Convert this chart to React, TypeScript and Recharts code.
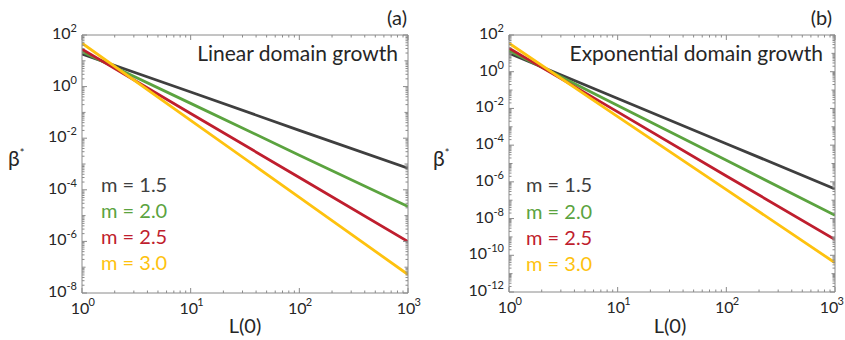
import React from 'react';
import { LineChart, Line, XAxis, YAxis } from 'recharts';

const FONT = 'Lato, "Open Sans", sans-serif';
const TEXT = '#262626';
const AXIS = '#8a8a8a';

// x values: L(0)
const L0 = [1, 10, 100, 1000];
const SERIES_NAMES = ['m = 1.5', 'm = 2.0', 'm = 2.5', 'm = 3.0'];
const SERIES_KEYS = ['m15', 'm20', 'm25', 'm30'];
const SERIES_COLORS = ['#3f3f3f', '#5ba33f', '#bf1e2e', '#fec20f'];

// Panel (a) Linear domain growth: beta* at L(0) = 1, 10, 100, 1000
const LIN_M15 = [18.2, 0.62, 0.02, 0.00069];
const LIN_M20 = [22.4, 0.224, 0.0022, 0.0000224];
const LIN_M25 = [28.2, 0.091, 0.0003, 9.8e-7];
const LIN_M30 = [47.9, 0.049, 5.1e-5, 5.2e-8];

// Panel (b) Exponential domain growth
const EXP_M15 = [10, 0.035, 1.2e-4, 4.1e-7];
const EXP_M20 = [14.1, 0.0145, 1.5e-5, 1.5e-8];
const EXP_M25 = [19, 0.0065, 2.1e-6, 7.2e-10];
const EXP_M30 = [35.5, 0.0036, 3.8e-7, 3.9e-11];

// tick labels (exponents of 10)
const X_LABEL_EXP = [0, 1, 2, 3];
const Y_LABEL_EXP_A = [-8, -6, -4, -2, 0, 2];
const Y_LABEL_EXP_B = [-12, -10, -8, -6, -4, -2, 0, 2];

function logTicks(minExp: number, maxExp: number) {
  const out: number[] = [];
  for (let e = minExp; e <= maxExp; e++) {
    out.push(Math.pow(10, e));
    if (e < maxExp) for (let k = 2; k <= 9; k++) out.push(k * Math.pow(10, e));
  }
  return out;
}

function classify(v: number, labels: number[]) {
  const lg = Math.log10(v);
  const e = Math.round(lg);
  const decade = Math.abs(lg - e) < 1e-6;
  const labelled = decade && labels.includes(e);
  return { e, decade, labelled, len: labelled ? 5 : decade ? 3.5 : 2.5 };
}

const makeTick = (side: string, labels: number[], maxRight: number = 10000) => (props: any) => {
  const { x, y, payload } = props;
  const c = classify(payload.value, labels);
  if (side === 'bottom') {
    const cx = Math.min(x - 2, maxRight - 16);
    return (
      <g>
        <line x1={x} x2={x} y1={y} y2={y - c.len} stroke={AXIS} strokeWidth={1} />
        {c.labelled && (
          <g fontFamily={FONT} fill={TEXT}>
            <text x={cx} y={y + 21} textAnchor="middle" fontSize={16}>10</text>
            <text x={cx + 8.5} y={y + 13} textAnchor="start" fontSize={11}>{String(c.e)}</text>
          </g>
        )}
      </g>
    );
  }
  if (side === 'top') {
    return <line x1={x} x2={x} y1={y} y2={y + c.len} stroke={AXIS} strokeWidth={1} />;
  }
  if (side === 'left') {
    return (
      <g>
        <line x1={x} x2={x + c.len} y1={y} y2={y} stroke={AXIS} strokeWidth={1} />
        {c.labelled && (
          <text x={x - 5} y={y + 4} textAnchor="end" fontFamily={FONT} fill={TEXT} fontSize={16}>
            10<tspan dy={-7} fontSize={11}>{c.e < 0 ? '-' + String(-c.e) : String(c.e)}</tspan>
          </text>
        )}
      </g>
    );
  }
  return <line x1={x} x2={x - c.len} y1={y} y2={y} stroke={AXIS} strokeWidth={1} />;
};

type PanelProps = {
  rows: any[];
  yMinExp: number;
  yMaxExp: number;
  yLabels: number[];
  width: number;
  maxRight: number;
  margin: { top: number; right: number; bottom: number; left: number };
  title: string;
  titleX: number;
  tag: string;
  tagX: number;
  legendX: number;
  legendY: number[];
  betaX: number;
  xLabelX: number;
};

function Panel(p: PanelProps) {
  const xTicks = logTicks(0, 3);
  const yTicks = logTicks(p.yMinExp, p.yMaxExp);
  const xDomain = [1, 1000];
  const yDomain = [Math.pow(10, p.yMinExp), Math.pow(10, p.yMaxExp)];
  return (
    <LineChart width={p.width} height={340} data={p.rows} margin={p.margin} style={{ overflow: 'visible' }}>
      <XAxis
        dataKey="L"
        type="number"
        scale="log"
        domain={xDomain}
        allowDataOverflow
        ticks={xTicks}
        interval={0}
        height={1}
        tickSize={0}
        tickMargin={0}
        tickLine={false}
        axisLine={{ stroke: AXIS }}
        tick={makeTick('bottom', X_LABEL_EXP, p.maxRight)}
      />
      <XAxis
        xAxisId="top"
        orientation="top"
        dataKey="L"
        type="number"
        scale="log"
        domain={xDomain}
        allowDataOverflow
        ticks={xTicks}
        interval={0}
        height={1}
        tickSize={0}
        tickMargin={0}
        tickLine={false}
        axisLine={{ stroke: AXIS }}
        tick={makeTick('top', X_LABEL_EXP)}
      />
      <YAxis
        type="number"
        scale="log"
        domain={yDomain}
        allowDataOverflow
        ticks={yTicks}
        interval={0}
        width={1}
        tickSize={0}
        tickMargin={0}
        tickLine={false}
        axisLine={{ stroke: AXIS }}
        tick={makeTick('left', p.yLabels)}
      />
      <YAxis
        yAxisId="right"
        orientation="right"
        type="number"
        scale="log"
        domain={yDomain}
        allowDataOverflow
        ticks={yTicks}
        interval={0}
        width={1}
        tickSize={0}
        tickMargin={0}
        tickLine={false}
        axisLine={{ stroke: AXIS }}
        tick={makeTick('right', p.yLabels)}
      />
      {SERIES_KEYS.map((k, i) => (
        <Line
          key={k}
          dataKey={k}
          type="linear"
          stroke={SERIES_COLORS[i]}
          strokeWidth={2.8}
          dot={false}
          activeDot={false}
          isAnimationActive={false}
        />
      ))}
      <g fontFamily={FONT}>
        <text x={p.titleX} y={61} textAnchor="end" fontSize={21} fill={TEXT}>{p.title}</text>
        <text x={p.tagX} y={25} textAnchor="end" fontSize={20} fill={TEXT}>{p.tag}</text>
        {SERIES_NAMES.map((n, i) => (
          <text key={n} x={p.legendX} y={p.legendY[i]} fontSize={20} fill={SERIES_COLORS[i]}>{n}</text>
        ))}
        <text x={p.betaX} y={166} fontSize={21} fill={TEXT}>
          β<tspan dy={-9} fontSize={11}>*</tspan>
        </text>
        <text x={p.xLabelX} y={333} textAnchor="middle" fontSize={20} fill={TEXT}>L(0)</text>
      </g>
    </LineChart>
  );
}

function buildRows(a: number[], b: number[], c: number[], d: number[]) {
  return L0.map((L, i) => ({ L, m15: a[i], m20: b[i], m25: c[i], m30: d[i] }));
}

export default function App() {
  const rowsA = buildRows(LIN_M15, LIN_M20, LIN_M25, LIN_M30);
  const rowsB = buildRows(EXP_M15, EXP_M20, EXP_M25, EXP_M30);
  return (
    <div style={{ position: 'absolute', left: 0, top: 0, width: 845, height: 340, background: '#fff', overflow: 'hidden' }}>
      <div style={{ position: 'absolute', left: 0, top: 0 }}>
        <Panel
          rows={rowsA}
          yMinExp={-8}
          yMaxExp={2}
          yLabels={Y_LABEL_EXP_A}
          width={425}
          maxRight={10000}
          margin={{ top: 34, right: 16, bottom: 46, left: 81 }}
          title="Linear domain growth"
          titleX={398}
          tag="(a)"
          tagX={407}
          legendX={101}
          legendY={[192, 218, 244, 270]}
          betaX={8}
          xLabelX={245}
        />
      </div>
      <div style={{ position: 'absolute', left: 420, top: 0 }}>
        <Panel
          rows={rowsB}
          yMinExp={-12}
          yMaxExp={2}
          yLabels={Y_LABEL_EXP_B}
          width={425}
          maxRight={425}
          margin={{ top: 34, right: 9, bottom: 47, left: 88 }}
          title="Exponential domain growth"
          titleX={403}
          tag="(b)"
          tagX={412}
          legendX={106}
          legendY={[192, 219, 245, 271]}
          betaX={13}
          xLabelX={250}
        />
      </div>
    </div>
  );
}
